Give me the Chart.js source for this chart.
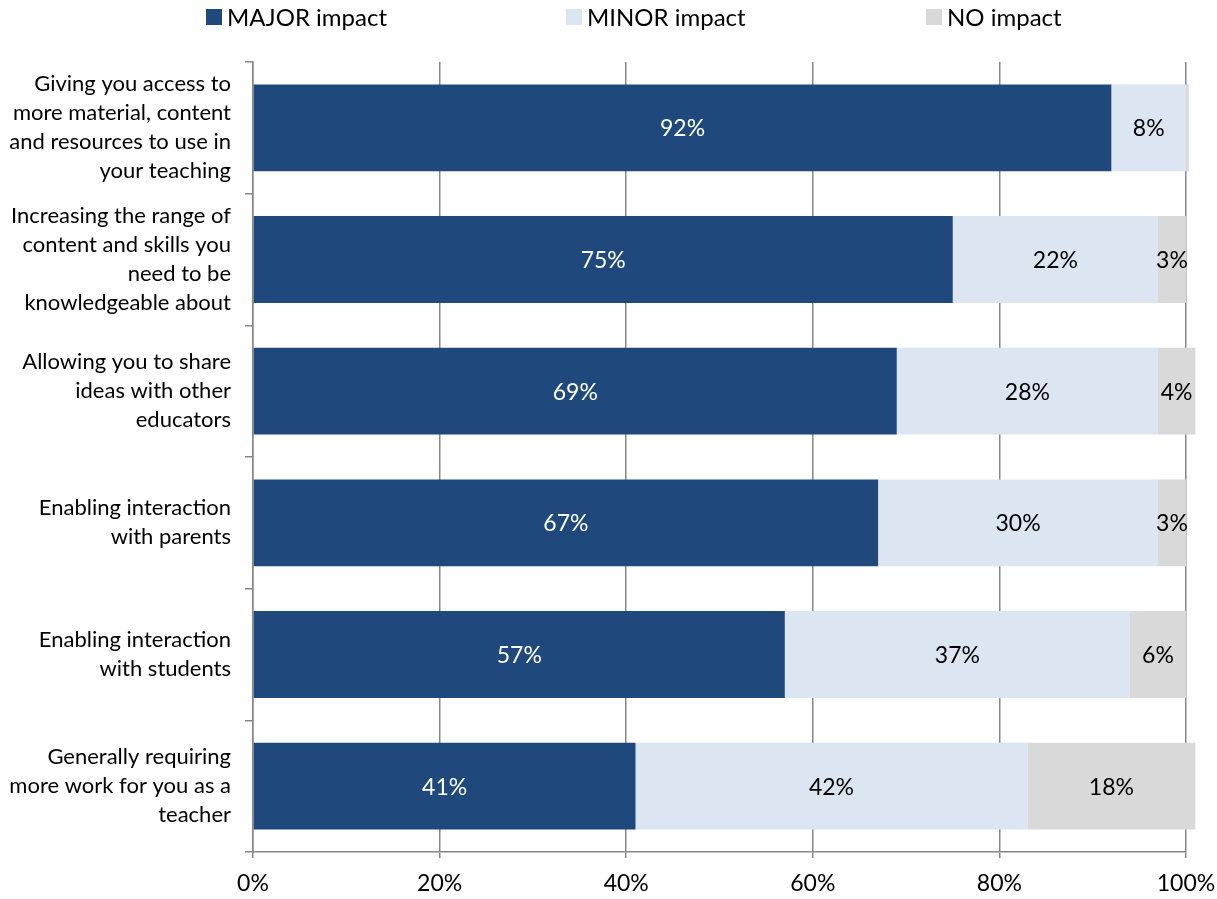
<!DOCTYPE html>
<html lang="en">
<head>
    <meta charset="UTF-8">
    <meta name="viewport" content="width=device-width, initial-scale=1.0">
    <title>Impact of technology on teaching</title>
    <script src="https://cdn.jsdelivr.net/npm/chart.js"></script>
    <style>
        html, body {
            margin: 0;
            padding: 0;
            background: #fff;
        }

        .chart-container {
            width: 1217px;
            height: 899px;
        }
    </style>
</head>
<body>
<div class="chart-container">
    <canvas id="impactChart"></canvas>
</div>

<script>
    const categories = [
        ['Giving you access to', 'more material, content', 'and resources to use in', 'your teaching'],
        ['Increasing the range of', 'content and skills you', 'need to be', 'knowledgeable about'],
        ['Allowing you to share', 'ideas with other', 'educators'],
        ['Enabling interaction', 'with parents'],
        ['Enabling interaction', 'with students'],
        ['Generally requiring', 'more work for you as a', 'teacher']
    ];
    const seriesNames = ['MAJOR impact', 'MINOR impact', 'NO impact'];
    const majorImpact = [92, 75, 69, 67, 57, 41];
    const minorImpact = [8, 22, 28, 30, 37, 42];
    const noImpact = [0.3, 3, 4, 3, 6, 18];
    const xTicks = [0, 20, 40, 60, 80, 100];

    const colors = ['#1f497d', '#dce6f2', '#d9d9d9'];
    const labelColors = ['#ffffff', '#000000', '#000000'];
    const gridColor = '#878787';
    const fontFamily = 'Lato, "Open Sans", sans-serif';

    // value labels in the middle of each segment
    const barLabels = {
        id: 'barLabels',
        afterDatasetsDraw(chart) {
            const ctx = chart.ctx;
            ctx.save();
            ctx.font = `23px ${fontFamily}`;
            ctx.textAlign = 'center';
            ctx.textBaseline = 'middle';
            chart.data.datasets.forEach((ds, i) => {
                chart.getDatasetMeta(i).data.forEach((bar, j) => {
                    const v = ds.data[j];
                    if (v < 1) return;
                    const c = bar.getCenterPoint();
                    ctx.fillStyle = labelColors[i];
                    ctx.fillText(v + '%', c.x, c.y + 1);
                });
            });
            ctx.restore();
        }
    };

    // legend with equal slots like the original
    const topLegend = {
        id: 'topLegend',
        afterDraw(chart) {
            const ctx = chart.ctx;
            const slot = 360;
            const startX = 206;
            ctx.save();
            ctx.font = `24px ${fontFamily}`;
            ctx.textAlign = 'left';
            ctx.textBaseline = 'middle';
            chart.data.datasets.forEach((ds, i) => {
                const x = startX + i * slot;
                ctx.fillStyle = ds.backgroundColor;
                ctx.fillRect(x, 9, 16, 16);
                ctx.fillStyle = '#000';
                ctx.fillText(ds.label, x + 21, 18);
            });
            ctx.restore();
        }
    };

    const ctx = document.getElementById('impactChart').getContext('2d');
    const seriesData = [majorImpact, minorImpact, noImpact];

    new Chart(ctx, {
        type: 'bar',
        data: {
            labels: categories,
            datasets: seriesNames.map((name, i) => ({
                label: name,
                data: seriesData[i],
                backgroundColor: colors[i],
                borderWidth: 0,
                categoryPercentage: 1,
                barPercentage: 0.66,
                clip: false
            }))
        },
        options: {
            indexAxis: 'y',
            responsive: true,
            maintainAspectRatio: false,
            animation: false,
            layout: {
                padding: { top: 62, right: 31, bottom: 0, left: 0 }
            },
            plugins: {
                legend: { display: false },
                tooltip: { enabled: false }
            },
            scales: {
                x: {
                    stacked: true,
                    min: 0,
                    max: 100,
                    afterBuildTicks: scale => {
                        scale.ticks = xTicks.map(v => ({ value: v }));
                    },
                    afterFit: scale => {
                        scale.height = 47;
                        scale.paddingLeft = 0;
                        scale.paddingRight = 0;
                    },
                    grid: {
                        color: gridColor,
                        lineWidth: 1.5,
                        tickLength: 6
                    },
                    border: { color: gridColor, width: 1.5 },
                    ticks: {
                        callback: v => v + '%',
                        color: '#000',
                        padding: 12,
                        maxRotation: 0,
                        font: { family: fontFamily, size: 23 }
                    }
                },
                y: {
                    stacked: true,
                    afterFit: scale => {
                        scale.width = 253;
                        scale.paddingTop = 0;
                        scale.paddingBottom = 0;
                    },
                    grid: {
                        offset: true,
                        drawOnChartArea: false,
                        color: gridColor,
                        lineWidth: 1.5,
                        tickLength: 8
                    },
                    border: { color: gridColor, width: 1.5 },
                    ticks: {
                        color: '#000',
                        padding: 14,
                        font: { family: fontFamily, size: 22, lineHeight: '29px' }
                    }
                }
            }
        },
        plugins: [barLabels, topLegend]
    });
</script>
</body>
</html>
